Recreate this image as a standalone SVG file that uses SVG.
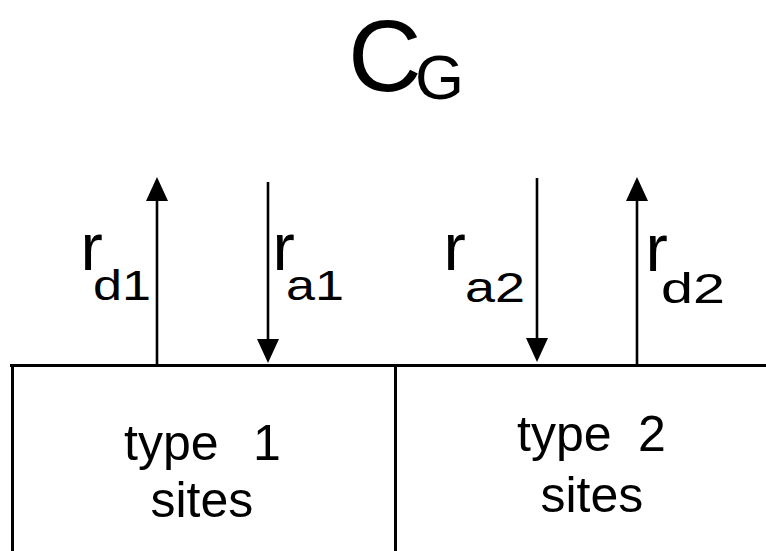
<svg xmlns="http://www.w3.org/2000/svg" width="766" height="551" viewBox="0 0 766 551">
<style>
text{font-family:"Liberation Sans",Arial,Helvetica,sans-serif;fill:#000}
.big{font-size:102px}
.bigsub{font-size:63px}
.r{font-size:67px}
.sub{font-size:42px}
.lbl{font-size:50px}
.edge{stroke:#000;stroke-width:3;fill:none}
.arr{stroke:#000;stroke-width:2.6;fill:none;marker-end:url(#head)}
</style>
<defs>
<marker id="head" viewBox="0 0 24 22" refX="14" refY="11" markerWidth="24" markerHeight="22" markerUnits="userSpaceOnUse" orient="auto">
<path d="M0,0 L24,11 L0,22 Z" fill="#000"/>
</marker>
</defs>
<rect width="766" height="551" fill="#fff"/>
<g id="cg">
<text x="348" y="91"><tspan class="big">C</tspan><tspan class="bigsub" x="415" y="99">G</tspan></text>
</g>
<g id="surface">
<path class="edge" d="M10,365.5 H766"/>
<path class="edge" d="M12.5,364 V551"/>
<path class="edge" d="M395.5,365 V551"/>
</g>
<g id="type1-sites">
<text class="lbl" x="124" y="460">type <tspan x="253">1</tspan></text>
<text class="lbl" x="150.5" y="517">sites</text>
</g>
<g id="type2-sites">
<text class="lbl" x="517" y="451">type <tspan x="638">2</tspan></text>
<text class="lbl" x="540.5" y="512">sites</text>
</g>
<g id="connectors">
<path id="rd1-arrow" class="arr" d="M157,364 V187"/>
<path id="ra1-arrow" class="arr" d="M268,182 V353"/>
<path id="ra2-arrow" class="arr" d="M537,178 V352"/>
<path id="rd2-arrow" class="arr" d="M637,364 V187"/>
</g>
<g id="labels">
<text x="80.6" y="270"><tspan class="r">r</tspan><tspan class="sub" x="93" y="300" textLength="58" lengthAdjust="spacingAndGlyphs">d1</tspan></text>
<text x="272.6" y="270"><tspan class="r">r</tspan><tspan class="sub" x="286" y="300" textLength="58" lengthAdjust="spacingAndGlyphs">a1</tspan></text>
<text x="443.6" y="270"><tspan class="r">r</tspan><tspan class="sub" x="465" y="302" textLength="60" lengthAdjust="spacingAndGlyphs">a2</tspan></text>
<text x="645.6" y="271"><tspan class="r">r</tspan><tspan class="sub" x="661" y="303" textLength="64" lengthAdjust="spacingAndGlyphs">d2</tspan></text>
</g>
</svg>
